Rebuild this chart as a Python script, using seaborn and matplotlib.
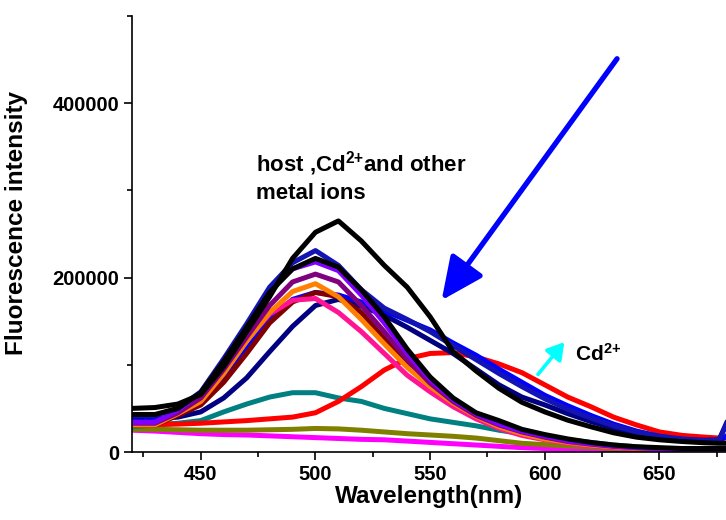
import matplotlib
matplotlib.use("Agg")
import matplotlib.pyplot as plt
import seaborn as sns
import pandas as pd
from matplotlib.ticker import MultipleLocator

# ---------------- data ----------------
wavelength = [420, 430, 440, 450, 460, 470, 480, 490, 500, 510, 520, 530, 540,
              550, 560, 570, 580, 590, 600, 610, 620, 630, 640, 650, 660, 670,
              676, 680]

magenta = [25000, 24000, 22500, 21000, 20000, 19500, 18500, 17500, 16500, 15500,
           14500, 14000, 12500, 11000, 9500, 8000, 6500, 5000, 4000, 3000, 2500,
           2000, 1500, 1000, 1000, 1000, 1000, 1000]
olive = [26000, 26000, 25500, 25000, 25000, 25000, 25500, 26000, 27000, 26500,
         25000, 23000, 21000, 19500, 18000, 16000, 13000, 10000, 8500, 7000, 5500,
         4000, 3000, 2500, 2000, 1500, 1500, 1500]
teal = [29000, 31000, 33000, 36000, 46000, 55000, 63000, 68000, 68000, 62000,
        58000, 50000, 44000, 38000, 34000, 30000, 25000, 21000, 17000, 14000,
        11000, 8000, 6000, 4000, 3000, 2000, 2000, 2000]
red = [31000, 31500, 32000, 33000, 34500, 36000, 38000, 40000, 45000, 58000,
       75000, 94000, 107000, 113000, 114000, 109000, 101000, 91000, 77000, 63000,
       52000, 40000, 31000, 23000, 19000, 17000, 16000, 16000]
navy = [38000, 38000, 40000, 46000, 62000, 85000, 115000, 144000, 168000, 175000,
        167000, 157000, 143000, 128000, 113000, 95000, 77000, 63000, 54000, 44000,
        35000, 27000, 21000, 17000, 14000, 13500, 14000, 38000]
blue = [35000, 36000, 42000, 55000, 83000, 118000, 152000, 175000, 183000, 180000,
        172000, 162000, 151000, 140000, 125000, 111000, 95000, 80000, 65000, 53000,
        42000, 32000, 24000, 18000, 14000, 12000, 12000, 20000]
maroon = [31000, 31000, 42000, 54000, 80000, 113000, 148000, 172000, 183000, 178000,
          160000, 130000, 102000, 77000, 57000, 42000, 31000, 23000, 17000, 12500,
          9000, 6500, 5000, 4000, 3000, 3000, 3000, 3000]
pink = [32000, 32000, 44000, 58000, 90000, 128000, 158000, 174000, 176000, 160000,
        138000, 113000, 88000, 69000, 52000, 38000, 27000, 19000, 14000, 10000,
        7000, 5000, 4000, 3000, 2500, 2000, 2000, 2000]
orange = [31000, 31000, 44000, 58000, 90000, 127000, 160000, 184000, 193000, 178000,
          152000, 124000, 97000, 75000, 56000, 41000, 29000, 21000, 15000, 11000,
          8000, 6000, 4500, 3500, 3000, 2500, 2500, 2500]
purple = [33000, 33000, 45000, 62000, 95000, 132000, 168000, 195000, 204000, 195000,
          168000, 138000, 106000, 79000, 58000, 42000, 31000, 23000, 17000, 12000,
          9000, 6500, 5000, 4000, 3000, 3000, 3000, 3000]
violet = [34000, 34000, 48000, 68000, 105000, 145000, 185000, 210000, 218000, 208000,
          180000, 148000, 113000, 83000, 60000, 44000, 32000, 24000, 18000, 13000,
          9500, 7000, 5000, 4000, 3000, 3000, 3000, 3000]
mediumblue = [42000, 42000, 50000, 69000, 107000, 147000, 189000, 217000, 231000,
              214000, 186000, 165000, 152000, 138000, 122000, 106000, 90000, 75000,
              61000, 49000, 39000, 30000, 23000, 18000, 15000, 13000, 14000, 36000]
black2 = [43000, 43000, 50000, 68000, 104000, 143000, 183000, 210000, 222000, 212000,
          186000, 155000, 118000, 86000, 62000, 45000, 36000, 26000, 20000, 15000,
          11000, 8000, 6000, 5000, 4000, 4000, 4000, 4000]
black1 = [50000, 51000, 55000, 66000, 98000, 138000, 178000, 222000, 252000, 265000,
          242000, 214000, 189000, 155000, 115000, 93000, 73000, 57000, 46000, 36500,
          29000, 22000, 17000, 14000, 12000, 10500, 10000, 10000]

series = {
    "magenta": magenta, "olive": olive, "teal": teal, "red": red,
    "navy": navy, "blue": blue, "maroon": maroon, "pink": pink,
    "orange": orange, "purple": purple, "violet": violet,
    "mediumblue": mediumblue, "black2": black2, "black1": black1,
}
colors = {
    "magenta": "#ff00ff", "olive": "#808000", "teal": "#008080", "red": "#ff0000",
    "navy": "#000080", "blue": "#0000ff", "maroon": "#800000", "pink": "#ff1493",
    "orange": "#ff8000", "purple": "#800080", "violet": "#8000ff",
    "mediumblue": "#1414b4", "black2": "#000000", "black1": "#000000",
}

x_ticks = [450, 500, 550, 600, 650]
y_ticks = [0, 200000, 400000]

rows = []
for name, vals in series.items():
    for w, v in zip(wavelength, vals):
        rows.append({"wl": w, "I": v, "s": name})
df = pd.DataFrame(rows)

# ---------------- plotting ----------------
sns.set_style("ticks")
plt.rcParams["font.family"] = ["Liberation Sans", "DejaVu Sans"]
plt.rcParams["mathtext.fontset"] = "custom"
plt.rcParams["mathtext.rm"] = "Liberation Sans:bold"
plt.rcParams["mathtext.bf"] = "Liberation Sans:bold"
plt.rcParams["mathtext.default"] = "bf"
for k in ["text.color", "axes.labelcolor", "xtick.color", "ytick.color",
          "axes.edgecolor"]:
    plt.rcParams[k] = "black"

fig = plt.figure(figsize=(7.26, 5.20), dpi=100)
ax = fig.add_axes([132 / 726, 68 / 520, 594 / 726, 436 / 520])

sns.lineplot(data=df, x="wl", y="I", hue="s", hue_order=list(series.keys()),
             palette=colors, linewidth=3.6, legend=False, ax=ax,
             solid_capstyle="round", solid_joinstyle="round")

ax.set_xlim(420, 679)
ax.set_ylim(0, 500000)
ax.set_xticks(x_ticks)
ax.set_yticks(y_ticks)
ax.xaxis.set_minor_locator(MultipleLocator(25))
ax.yaxis.set_minor_locator(MultipleLocator(100000))
ax.set_xticklabels([str(t) for t in x_ticks], fontweight="bold")
ax.set_yticklabels([str(t) for t in y_ticks], fontweight="bold")
ax.tick_params(which="major", direction="out", length=6, width=1.2,
               labelsize=14.5, pad=3)
ax.tick_params(which="minor", direction="out", length=3.5, width=1.2)
for sp in ["top", "right"]:
    ax.spines[sp].set_visible(False)
for sp in ["left", "bottom"]:
    ax.spines[sp].set_linewidth(1.2)

ax.set_xlabel("Wavelength(nm)", fontsize=17.5, fontweight="bold", labelpad=1)
ax.set_ylabel("Fluorescence intensity", fontsize=17.5, fontweight="bold")
ax.yaxis.set_label_coords(-0.175, 0.525)

ax.text(474, 347000, "host ,Cd$^{2{+}}$and other\nmetal ions", fontsize=16,
        fontweight="bold", ha="left", va="top", linespacing=1.3)
ax.text(613, 112000, "Cd$^{2{+}}$", fontsize=15, fontweight="bold",
        ha="left", va="center")

ax.annotate("", xy=(555, 174000), xytext=(631.5, 451000),
            arrowprops=dict(arrowstyle="-|>,head_length=1.3,head_width=0.6",
                            color="#0000ff", lw=3.8, mutation_scale=20,
                            shrinkA=0, shrinkB=0, capstyle="round"))
ax.annotate("", xy=(608.5, 126000), xytext=(597, 89000),
            arrowprops=dict(arrowstyle="-|>,head_length=0.5,head_width=0.3",
                            color="#00ffff", lw=2.6, mutation_scale=20,
                            shrinkA=0, shrinkB=0))

fig.savefig("out.png", dpi=100)
